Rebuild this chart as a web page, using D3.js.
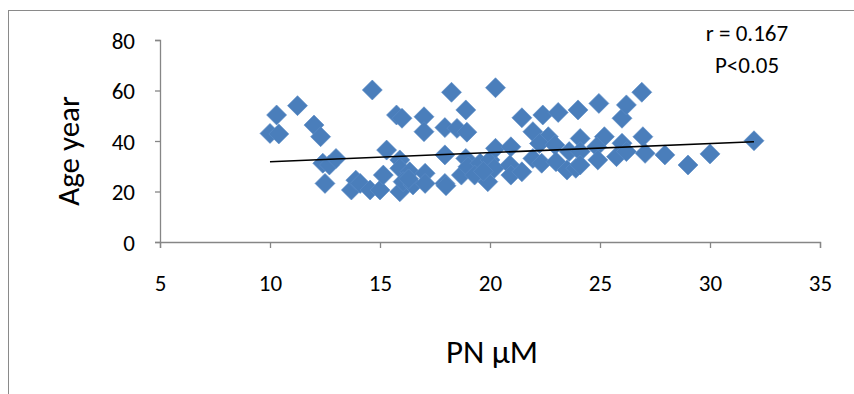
<!DOCTYPE html>
<html>
<head>
<meta charset="utf-8">
<script src="https://cdn.jsdelivr.net/npm/d3@7"></script>
<style>
  body { margin: 0; background: #fff; }
  text { font-family: Carlito, Lato, "Liberation Sans", sans-serif; fill: #000; }
</style>
</head>
<body>
<div id="chart"></div>
<script>
// PN (µM) values
var pnValues = [10.0, 10.3, 10.4, 11.25, 12.0, 12.3, 12.4, 12.7, 13.0, 12.5,
  13.7, 13.9, 14.1, 14.55, 15.0, 15.15, 14.65, 15.3, 15.75, 16.0,
  15.9, 15.9, 16.35, 15.9, 16.05, 16.5, 17.0, 17.0, 17.05, 17.05,
  17.95, 18.5, 17.95, 17.95, 18.0, 18.25, 18.9, 18.95, 18.9, 18.7,
  19.0, 19.55, 20.0, 19.3, 19.9, 20.2, 20.25, 20.25, 20.95, 20.9,
  20.95, 21.45, 21.45, 22.4, 23.1, 24.0, 21.95, 22.65, 22.25, 22.95,
  23.6, 21.95, 22.35, 23.0, 23.5, 23.9, 24.1, 24.1, 24.1, 24.95,
  25.2, 24.85, 24.9, 25.75, 26.0, 26.2, 26.9, 26.0, 26.2, 26.95,
  27.05, 27.95, 29.0, 30.0, 32.0, 19.7, 16.3];
// Age (years), same order
var ageValues = [43, 50.3, 42.8, 54, 46.3, 41.7, 31.2, 30.5, 33.1, 23.2,
  20.6, 24.5, 23.2, 20.6, 20.6, 26.5, 60.2, 36.4, 50.3, 49,
  32.5, 29.2, 27.8, 19.9, 23.9, 22.6, 49.6, 43.7, 27.2, 23.2,
  45.3, 45, 34.5, 23.2, 22.3, 59.3, 52.3, 43.5, 33.1, 26.5,
  29.8, 31.2, 32.5, 26.5, 23.9, 29.2, 61.1, 37.1, 37.7, 30.5,
  26.5, 27.8, 49.2, 50.3, 51.3, 52.3, 43.7, 41.7, 39, 38.4,
  35.8, 33.1, 31.2, 31.8, 28.5, 29.2, 41, 35.8, 30.5, 54.9,
  41.7, 37.7, 32.5, 33.8, 49, 54.3, 59.3, 39.1, 35.8, 41.7,
  35.1, 34.5, 30.5, 34.9, 40.1, 28.0, 25.0];
// linear trend line end points
var trendX = [10, 32];
var trendY = [31.8, 39.7];

var xTicks = [5, 10, 15, 20, 25, 30, 35];
var yTicks = [0, 20, 40, 60, 80];
var statLines = ["r = 0.167", "P<0.05"];

var width = 854, height = 394;
var margin = { top: 40, right: 34, bottom: 152, left: 160 };
var innerW = width - margin.left - margin.right,
    innerH = height - margin.top - margin.bottom;

var svg = d3.select("#chart").append("svg")
  .attr("width", width)
  .attr("height", height);

// chart area border (runs off the right and bottom edges)
svg.append("rect")
  .attr("x", 8.5).attr("y", 10.5)
  .attr("width", 900).attr("height", 450)
  .attr("fill", "none")
  .attr("stroke", "#8a8a8a");

var g = svg.append("g")
  .attr("transform", "translate(" + margin.left + "," + margin.top + ")");

var x = d3.scaleLinear().domain([5, 35]).range([0, innerW]);
var y = d3.scaleLinear().domain([0, 80]).range([innerH, 0]);

// axes
var xAxis = g.append("g")
  .attr("transform", "translate(0," + innerH + ")")
  .call(d3.axisBottom(x).tickValues(xTicks).tickSize(6).tickPadding(27));
var yAxis = g.append("g")
  .call(d3.axisLeft(y).tickValues(yTicks).tickSize(5).tickPadding(20));

[xAxis, yAxis].forEach(function (a) {
  a.selectAll("path, line").attr("stroke", "#868686").attr("stroke-width", 1.3);
  a.selectAll("text")
    .style("font-size", "23px")
    .style("font-family", "Carlito, Lato, 'Liberation Sans', sans-serif");
});
yAxis.selectAll("text").attr("dy", "0.36em");

// points
var pts = pnValues.map(function (v, i) { return [v, ageValues[i]]; });
var diamond = d3.symbol().type(d3.symbolSquare).size(200);
g.append("g").selectAll("path")
  .data(pts)
  .enter().append("path")
  .attr("d", diamond)
  .attr("transform", function (d) {
    return "translate(" + x(d[0]) + "," + y(d[1]) + ") rotate(45)";
  })
  .attr("fill", "#4A7EBB")
  .attr("stroke", "#5B8BC6")
  .attr("stroke-width", 0.6);

// trend line
var line = d3.line()
  .x(function (d) { return x(d[0]); })
  .y(function (d) { return y(d[1]); });
g.append("path")
  .datum(trendX.map(function (v, i) { return [v, trendY[i]]; }))
  .attr("d", line)
  .attr("fill", "none")
  .attr("stroke", "#000")
  .attr("stroke-width", 1.6);

// axis titles
svg.append("text")
  .attr("transform", "translate(79,151) rotate(-90)")
  .attr("text-anchor", "middle")
  .style("font-size", "31px")
  .text("Age year");

svg.append("text")
  .attr("x", 492).attr("y", 363)
  .attr("text-anchor", "middle")
  .style("font-size", "33px")
  .text("PN µM");

// correlation note
svg.append("g").selectAll("text")
  .data(statLines)
  .enter().append("text")
  .attr("x", 747)
  .attr("y", function (d, i) { return 41 + i * 32; })
  .attr("text-anchor", "middle")
  .style("font-size", "23px")
  .text(function (d) { return d; });
</script>
</body>
</html>
